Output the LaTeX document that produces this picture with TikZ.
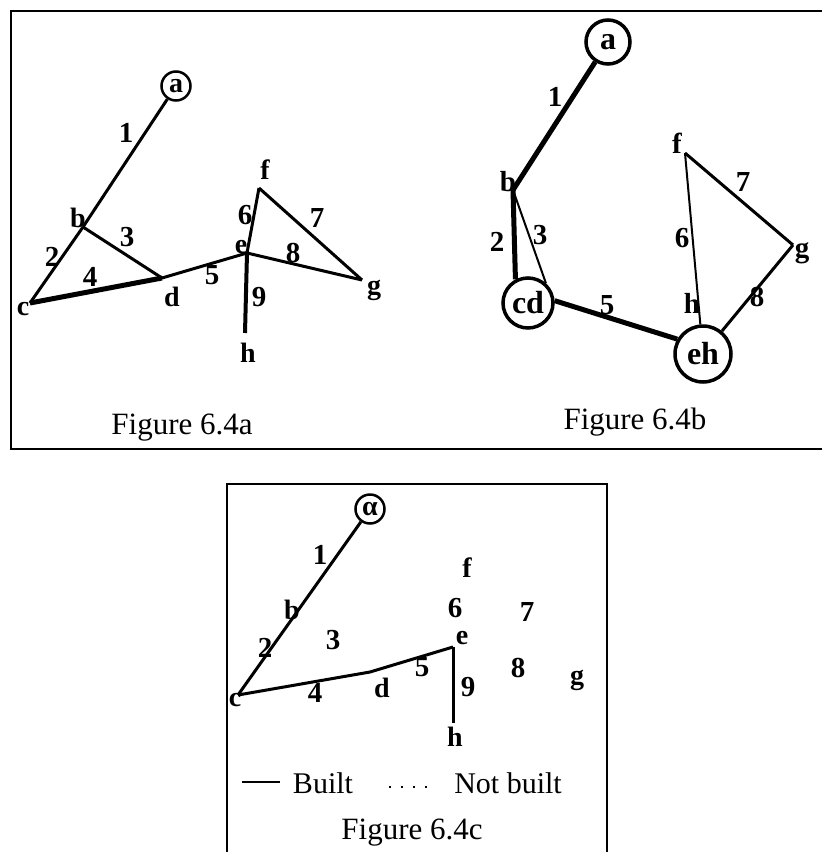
\documentclass[tikz,border=0pt]{standalone}
\usepackage{fontspec}
\setmainfont{Liberation Serif}
\tikzset{
  lbl/.style={font=\fontsize{28}{28}\selectfont\bfseries, inner sep=0pt},
  lblb/.style={font=\fontsize{29}{29}\selectfont\bfseries, inner sep=0pt},
  num/.style={font=\fontsize{29}{29}\selectfont\bfseries, inner sep=0pt},
  circlbl/.style={font=\fontsize{28}{28}\selectfont\bfseries},
  circlblb/.style={font=\fontsize{32}{32}\selectfont\bfseries},
  captext/.style={font=\fontsize{31}{31}\selectfont, inner sep=0pt},
  legtext/.style={font=\fontsize{30}{30}\selectfont, inner sep=0pt},
  vcirc/.style={circle, draw, inner sep=0pt},
  edge/.style={line width=3pt},
  heavyedge/.style={line width=5pt},
  thinedge/.style={line width=2pt},
  frame/.style={line width=2pt},
}
\begin{document}
\begin{tikzpicture}[x=1pt, y=-1pt]
\useasboundingbox (0,0) rectangle (822,852);
% frames
\coordinate (ft1) at (824,11);
\coordinate (ft2) at (11,11);
\coordinate (ft3) at (11,449);
\coordinate (ft4) at (824,449);
\draw[frame] (ft1) -- (ft2) -- (ft3) -- (ft4);
\coordinate (fb1) at (227,854);
\coordinate (fb2) at (227,484);
\coordinate (fb3) at (607,484);
\coordinate (fb4) at (607,854);
\draw[frame] (fb1) -- (fb2) -- (fb3) -- (fb4);

% ---------- Figure 6.4a ----------
\node[vcirc, minimum size=29pt, line width=2.5pt, circlbl] (a1) at (176,86) {a};
\coordinate (b1) at (83,227);
\coordinate (c1) at (30,303);
\coordinate (d1) at (162,278);
\coordinate (e1) at (247,253);
\coordinate (f1) at (259,188);
\coordinate (g1) at (362,280);
\coordinate (h1) at (245,333);
\draw[edge] (a1) -- (b1);
\draw[edge] (b1) -- (c1);
\draw[edge] (b1) -- (d1);
\draw[heavyedge] (c1) -- (d1);
\draw[edge] (d1) -- (e1);
\draw[edge] (e1) -- (f1);
\draw[edge] (f1) -- (g1);
\draw[edge] (e1) -- (g1);
\draw[line width=4pt] (e1) -- (h1);
\node[lbl] (lb1) at (78,218) {b};
\node[lbl] (lc1) at (23,309) {c};
\node[lbl] (ld1) at (172,297) {d};
\node[lbl] (le1) at (241,247) {e};
\node[lbl] (lf1) at (265,170) {f};
\node[lbl] (lg1) at (374,290) {g};
\node[lbl] (lh1) at (248,353) {h};
\node[num] (n1a) at (126,133) {1};
\node[num] (n2a) at (52,257) {2};
\node[num] (n3a) at (127,237) {3};
\node[num] (n4a) at (90,277) {4};
\node[num] (n5a) at (212,275) {5};
\node[num] (n6a) at (245,215) {6};
\node[num] (n7a) at (317,218) {7};
\node[num] (n8a) at (293,253) {8};
\node[num] (n9a) at (259,297) {9};
\node[captext] (capa) at (182,428) {Figure 6.4a};

% ---------- Figure 6.4b ----------
\node[vcirc, minimum size=44pt, line width=3.5pt, circlblb] (a2) at (608,42) {a};
\coordinate (b2) at (513,190);
\node[vcirc, minimum size=50pt, line width=3.5pt, circlblb] (cd) at (528,303) {cd};
\node[vcirc, minimum size=56pt, line width=3.5pt, circlblb] (eh) at (703,354) {eh};
\coordinate (f2) at (685,153);
\coordinate (g2) at (793,245);
\draw[heavyedge] (a2) -- (b2);
\draw[heavyedge] (b2) -- (cd.118);
\draw[thinedge] (b2) -- (cd.48);
\draw[heavyedge] (cd.5) -- (eh.150);
\draw[thinedge] (f2) -- (eh);
\draw[edge] (f2) -- (g2);
\draw[edge] (g2) -- (eh);
\node[lblb] (lb2) at (508,182) {b};
\node[lblb] (lf2) at (677,143) {f};
\node[lblb] (lg2) at (802,253) {g};
\node[lblb] (lh2) at (692,303) {h};
\node[num] (n1b) at (555,97) {1};
\node[num] (n2b) at (497,242) {2};
\node[num] (n3b) at (540,235) {3};
\node[num] (n5b) at (607,305) {5};
\node[num] (n6b) at (682,238) {6};
\node[num] (n7b) at (743,182) {7};
\node[num] (n8b) at (757,297) {8};
\node[captext] (capb) at (635,422) {Figure 6.4b};

% ---------- Figure 6.4c ----------
\node[vcirc, minimum size=29pt, line width=2.5pt, circlbl] (a3) at (370,509) {α};
\coordinate (c3) at (238,695);
\coordinate (k3) at (370,672);
\coordinate (e3) at (453,647);
\coordinate (h3) at (453,723);
\draw[edge] (a3) -- (c3);
\draw[edge] (c3) -- (k3) -- (e3);
\draw[edge] (e3) -- (h3);
\node[lbl] (lb3) at (292,610) {b};
\node[lbl] (lc3) at (235,700) {c};
\node[lbl] (ld3) at (382,688) {d};
\node[lbl] (le3) at (462,638) {e};
\node[lbl] (lf3) at (467,568) {f};
\node[lbl] (lg3) at (577,680) {g};
\node[lbl] (lh3) at (455,737) {h};
\node[num] (n1c) at (320,555) {1};
\node[num] (n2c) at (265,648) {2};
\node[num] (n3c) at (333,640) {3};
\node[num] (n4c) at (315,693) {4};
\node[num] (n5c) at (422,667) {5};
\node[num] (n6c) at (455,608) {6};
\node[num] (n7c) at (527,612) {7};
\node[num] (n8c) at (518,668) {8};
\node[num] (n9c) at (468,687) {9};
% legend
\coordinate (bl1) at (242,782);
\coordinate (bl2) at (280,782);
\draw[line width=2.5pt] (bl1) -- (bl2);
\node[legtext] (built) at (323,783) {Built};
\coordinate (nb1) at (389,787);
\coordinate (nb2) at (427,787);
\draw[line width=1.5pt, dash pattern=on 1.5pt off 10.5pt] (nb1) -- (nb2);
\node[legtext] (notbuilt) at (508,783) {Not built};
\node[captext] (capc) at (412,833) {Figure 6.4c};
\end{tikzpicture}
\end{document}
